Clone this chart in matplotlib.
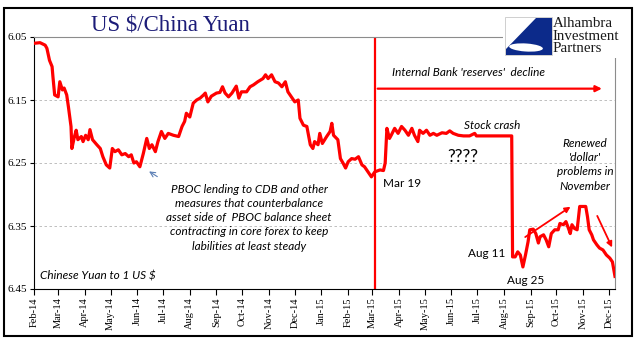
import matplotlib
matplotlib.use("Agg")
import matplotlib.pyplot as plt
import matplotlib.dates as mdates
import matplotlib.patches as mpatches
import pandas as pd

START = pd.Timestamp("2014-02-01")

# days after 1 Feb 2014
day_offset = [
    0, 7, 13, 15, 18, 21, 22, 24, 28, 30, 33, 35, 38, 40, 43, 44, 47, 49, 51, 55,
    57, 60, 63, 65, 68, 73, 77, 80, 84, 88, 91, 94, 98, 102, 106, 110, 113, 116, 119, 123,
    127, 131, 134, 137, 141, 144, 148, 152, 156, 162, 168, 172, 175, 177, 181, 185, 189, 193, 197, 199,
    202, 206, 212, 216, 219, 222, 226, 230, 235, 238, 241, 247, 251, 255, 260, 266, 269, 272, 276, 280,
    284, 288, 292, 295, 299, 303, 307, 309, 313, 317, 321, 324, 326, 330, 332, 335, 340, 344, 346, 348,
    353, 356, 359, 362, 365, 369, 373, 377, 381, 384, 388, 392, 396, 402, 406, 408, 410, 413, 415, 419,
    423, 427, 431, 435, 439, 442, 446, 448, 452, 456, 460, 464, 468, 474, 479, 483, 487, 493, 499, 506,
    512, 514, 522, 530, 541, 555, 556, 559, 562, 565, 568, 571, 574, 576, 580, 583, 586, 588, 592, 595,
    598, 601, 605, 609, 611, 615, 618, 621, 623, 625, 628, 631, 634, 641, 643, 645, 648, 650, 654, 657,
    661, 665, 669, 672, 675,
]
yuan = [
    6.060, 6.059, 6.063, 6.068, 6.087, 6.097, 6.113, 6.142, 6.145, 6.121, 6.134, 6.131, 6.142, 6.161, 6.192, 6.227, 6.208, 6.198, 6.213, 6.208,
    6.216, 6.206, 6.213, 6.197, 6.213, 6.221, 6.227, 6.240, 6.253, 6.258, 6.227, 6.232, 6.229, 6.237, 6.235, 6.240, 6.237, 6.250, 6.248, 6.256,
    6.235, 6.211, 6.227, 6.221, 6.232, 6.216, 6.200, 6.211, 6.203, 6.206, 6.208, 6.192, 6.184, 6.171, 6.177, 6.155, 6.150, 6.147, 6.142, 6.139,
    6.153, 6.144, 6.139, 6.138, 6.129, 6.139, 6.145, 6.139, 6.128, 6.147, 6.137, 6.137, 6.129, 6.126, 6.121, 6.116, 6.110, 6.116, 6.110, 6.121,
    6.123, 6.129, 6.121, 6.137, 6.145, 6.153, 6.150, 6.179, 6.190, 6.192, 6.221, 6.227, 6.216, 6.221, 6.203, 6.219, 6.208, 6.200, 6.187, 6.206,
    6.213, 6.243, 6.250, 6.258, 6.248, 6.243, 6.244, 6.240, 6.253, 6.256, 6.264, 6.272, 6.264, 6.261, 6.262, 6.250, 6.195, 6.211, 6.206, 6.195,
    6.203, 6.192, 6.198, 6.206, 6.195, 6.206, 6.216, 6.198, 6.203, 6.198, 6.206, 6.203, 6.206, 6.202, 6.203, 6.199, 6.203, 6.206, 6.207, 6.207,
    6.203, 6.207, 6.207, 6.207, 6.207, 6.207, 6.399, 6.399, 6.391, 6.396, 6.415, 6.396, 6.375, 6.356, 6.355, 6.362, 6.377, 6.367, 6.364, 6.372,
    6.383, 6.362, 6.356, 6.356, 6.346, 6.348, 6.343, 6.354, 6.362, 6.348, 6.354, 6.356, 6.319, 6.319, 6.335, 6.356, 6.364, 6.372, 6.380, 6.385,
    6.388, 6.396, 6.401, 6.407, 6.430,
]

y_ticks = [6.05, 6.15, 6.25, 6.35, 6.45]
END_DAY = 675
BREAK_DAY = 396

W, H = 641, 341
SERIF = "Liberation Serif"
SANS = "Lato"
RED = "#ff0000"


def at(days):
    return START + pd.Timedelta(days=days)


def fx(px):
    return px / W


def fy(py):
    return 1 - py / H


dates = START + pd.to_timedelta(day_offset, unit="D")

fig = plt.figure(figsize=(W / 100, H / 100), dpi=100)
ax = fig.add_axes([fx(34), fy(289), fx(615) - fx(34), fy(37) - fy(289)])

ax.plot(dates, yuan, color=RED, lw=2.3, solid_joinstyle="round", zorder=3)

ax.set_xlim(at(0), at(END_DAY))
ax.set_ylim(6.45, 6.05)
ax.set_yticks(y_ticks)
ax.set_yticklabels([f"{v:.2f}" for v in y_ticks], fontfamily=SERIF, fontsize=8)
ax.yaxis.grid(True, ls=(0, (3, 3)), color="#b4b4b4", lw=0.6)
ax.xaxis.set_major_locator(mdates.MonthLocator())
ax.xaxis.set_major_formatter(mdates.DateFormatter("%b-%y"))
for lbl in ax.get_xticklabels():
    lbl.set_rotation(90)
    lbl.set_fontfamily(SERIF)
    lbl.set_fontsize(7.5)
ax.tick_params(axis="y", direction="out", length=3, pad=2, width=0.8)
ax.tick_params(axis="x", direction="out", length=4, pad=2, width=0.8)

for side in ("top", "right"):
    ax.spines[side].set_color("#8c8c8c")
for side in ("left", "bottom"):
    ax.spines[side].set_color("black")

# regime break and the reserves-decline arrow
ax.axvline(at(BREAK_DAY), color=RED, lw=1.6, zorder=2)
ax.annotate("", xy=(at(663), 6.132), xytext=(at(BREAK_DAY), 6.132),
            arrowprops=dict(arrowstyle="-|>", color=RED, lw=1.6, mutation_scale=9))
ax.text(at(416), 6.106, "Internal Bank 'reserves'  decline", fontfamily=SANS,
        style="italic", fontsize=8.5, ha="left", va="center")

ax.text(at(532), 6.191, "Stock crash", fontfamily=SANS, style="italic",
        fontsize=8.5, ha="center", va="center")
ax.text(at(498), 6.240, "????", fontfamily=SANS, fontsize=12.5, ha="center", va="center")
ax.text(at(405), 6.283, "Mar 19", fontfamily=SANS, fontsize=8.5, ha="left", va="center")
ax.text(at(548), 6.394, "Aug 11", fontfamily=SANS, fontsize=8.5, ha="right", va="center")
ax.text(at(549), 6.436, "Aug 25", fontfamily=SANS, fontsize=8.5, ha="left", va="center")
ax.text(at(640), 6.253, "Renewed\n'dollar'\nproblems in\nNovember", fontfamily=SANS,
        style="italic", fontsize=8.5, ha="center", va="center", linespacing=1.35)
ax.text(at(7), 6.429, "Chinese Yuan to 1 US $", fontfamily=SANS, style="italic",
        fontsize=8.5, ha="left", va="center")
ax.text(at(250), 6.337,
        "PBOC lending to CDB and other\nmeasures that counterbalance\n"
        "asset side of  PBOC balance sheet\ncontracting in core forex to keep\n"
        "labilities at least steady",
        fontfamily=SANS, style="italic", fontsize=8.5, ha="center", va="center",
        linespacing=1.35)

ax.annotate("", xy=(at(131), 6.261), xytext=(at(146), 6.274),
            arrowprops=dict(arrowstyle="->", color="#5b7fb5", lw=0.8, mutation_scale=9))
ax.annotate("", xy=(at(626), 6.317), xytext=(at(568), 6.370),
            arrowprops=dict(arrowstyle="-|>", color=RED, lw=1.3, mutation_scale=8))
ax.annotate("", xy=(at(673), 6.388), xytext=(at(653), 6.330),
            arrowprops=dict(arrowstyle="-|>", color=RED, lw=1.3, mutation_scale=8))

fig.text(fx(170), fy(25), "US $/China Yuan", fontfamily=SERIF, fontsize=16.5,
         color="#1c1c78", ha="center", va="center")

# logo block in the top right corner
fig.add_artist(mpatches.Rectangle((fx(503), fy(58)), fx(632) - fx(503), fy(9) - fy(58),
                                  transform=fig.transFigure, facecolor="white",
                                  edgecolor="none", zorder=5))
fig.add_artist(mpatches.Rectangle((fx(505), fy(55)), fx(552) - fx(505), fy(17) - fy(55),
                                  transform=fig.transFigure, facecolor="white",
                                  edgecolor="#c8c8c8", lw=0.6, zorder=6))
sail = [(536, 17.5), (551.5, 17.5), (551.5, 54.5), (505.5, 54.5), (505.5, 49)]
fig.add_artist(mpatches.Polygon([(fx(x), fy(y)) for x, y in sail], closed=True,
                                transform=fig.transFigure, facecolor="#0c2a8a",
                                edgecolor="none", zorder=7))
fig.add_artist(mpatches.Ellipse((fx(526), fy(47.5)), fx(34) - fx(0), fy(0) - fy(8),
                                angle=-8, transform=fig.transFigure, facecolor="white",
                                edgecolor="none", zorder=8))
for i, word in enumerate(["Alhambra", "Investment", "Partners"]):
    fig.text(fx(553), fy(27 + 12.7 * i), word, fontfamily=SERIF, fontsize=10.8,
             color="#1a1a1a", ha="left", va="baseline", zorder=9)

# outer frame
fig.add_artist(mpatches.Rectangle((fx(4), fy(336)), fx(632) - fx(4), fy(8) - fy(336),
                                  transform=fig.transFigure, fill=False,
                                  edgecolor="black", lw=1.5, zorder=10))

fig.savefig("out.png", dpi=100)
